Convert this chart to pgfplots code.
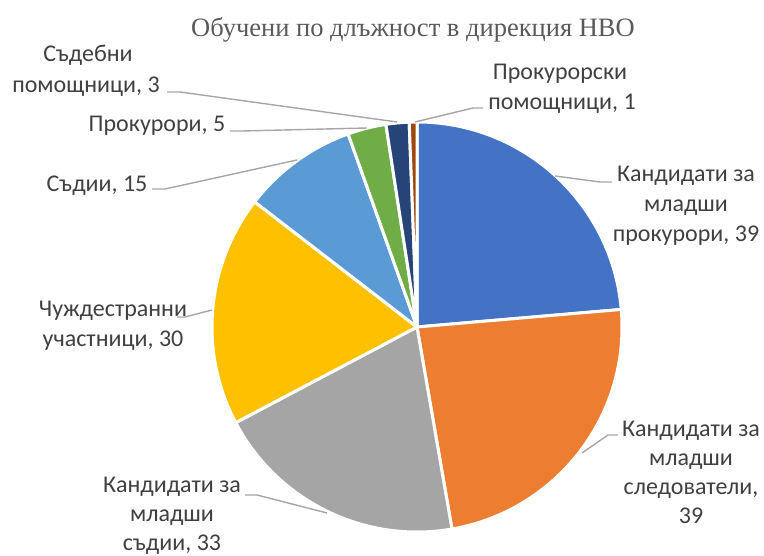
\documentclass[border=0pt]{standalone}
\usepackage{pgfplots}
\pgfplotsset{compat=1.18}
\usepackage{fontspec}
\setmainfont{Carlito}
\newfontfamily\titlefont{Liberation Serif}

\definecolor{cA}{HTML}{4472C4}
\definecolor{cB}{HTML}{ED7D31}
\definecolor{cC}{HTML}{A5A5A5}
\definecolor{cD}{HTML}{FFC000}
\definecolor{cE}{HTML}{5B9BD5}
\definecolor{cF}{HTML}{70AD47}
\definecolor{cG}{HTML}{264478}
\definecolor{cH}{HTML}{9E480E}
\definecolor{txt}{HTML}{404040}
\definecolor{lead}{HTML}{A6A6A6}

% slice: cumulative start, value, colour (total 165, clockwise from 12 o'clock)
\newcommand\slice[3]{%
  \fill[#3, draw=white, line width=3pt, line join=round]
    (axis cs:417,229) -- +({90-#1/165*360}:205pt)
    arc[start angle={90-#1/165*360}, end angle={90-(#1+#2)/165*360}, radius=205pt]
    -- cycle;}
% one line of a data label, centred on x, baseline at y
\newcommand\lbl[3]{\node[anchor=base] at (axis cs:#1,#2) {#3};}

\begin{document}
\begin{tikzpicture}
\path[use as bounding box] (0,0) rectangle (764pt,556pt);
\begin{axis}[
  width=764pt, height=556pt, scale only axis,
  xmin=0, xmax=764, ymin=0, ymax=556,
  hide axis, clip=false,
]
\slice{0}{39}{cA}
\slice{39}{39}{cB}
\slice{78}{33}{cC}
\slice{111}{30}{cD}
\slice{141}{15}{cE}
\slice{156}{5}{cF}
\slice{161}{3}{cG}
\slice{164}{1}{cH}

% leader lines
\begin{scope}[lead, line width=1.4pt]
\draw (axis cs:555,380) -- (axis cs:600,374) -- (axis cs:612,374);
\draw (axis cs:582,103) -- (axis cs:608,121) -- (axis cs:618,121);
\draw (axis cs:327,43) -- (axis cs:257,61) -- (axis cs:245,61);
\draw (axis cs:212,246) -- (axis cs:185,239) -- (axis cs:177,239);
\draw (axis cs:297,396) -- (axis cs:165,367) -- (axis cs:152,367);
\draw (axis cs:367,428) -- (axis cs:242,425) -- (axis cs:230,425);
\draw (axis cs:397,434) -- (axis cs:180,464) -- (axis cs:167,464);
\draw (axis cs:415,434) -- (axis cs:473,448) -- (axis cs:483,448);
\end{scope}

% labels
\begin{scope}[every node/.style={text=txt, font=\fontsize{24}{30}\selectfont, inner sep=0pt}]
\lbl{686}{374}{Кандидати за}
\lbl{686}{344}{младши}
\lbl{686}{314}{прокурори, 39}
\lbl{691}{119}{Кандидати за}
\lbl{691}{90}{младши}
\lbl{691}{61}{следователи,}
\lbl{691}{32}{39}
\lbl{172}{63}{Кандидати за}
\lbl{172}{34}{младши}
\lbl{172}{5}{съдии, 33}
\lbl{113}{239}{Чуждестранни}
\lbl{113}{209}{участници, 30}
\lbl{97}{364}{Съдии, 15}
\lbl{157}{424}{Прокурори, 5}
\lbl{88}{494}{Съдебни}
\lbl{86}{463}{помощници, 3}
\lbl{560}{476}{Прокурорски}
\lbl{562}{446}{помощници, 1}
\end{scope}
\node[anchor=base, text=black!65, font=\titlefont\fontsize{26.5}{32}\selectfont, inner sep=0pt]
  at (axis cs:413,519) {Обучени по длъжност в дирекция НВО};
\end{axis}
\end{tikzpicture}
\end{document}
